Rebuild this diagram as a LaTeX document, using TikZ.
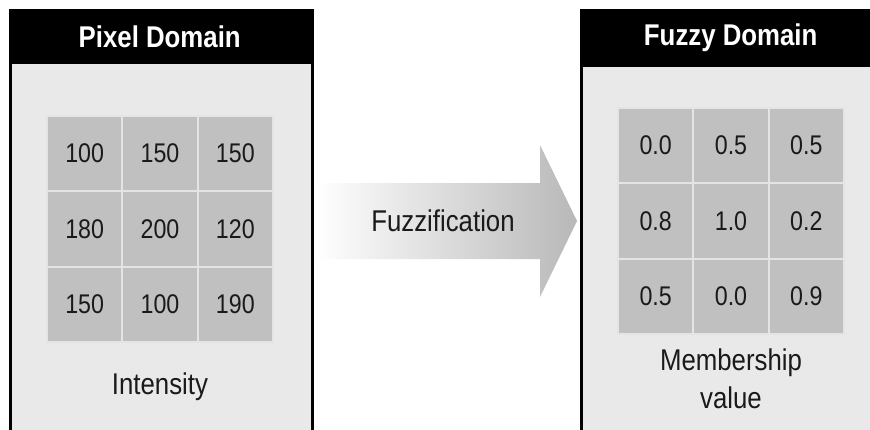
\documentclass[tikz,border=0pt]{standalone}
\usepackage{fontspec}
\setmainfont{Liberation Sans}[FakeStretch=0.86]
\usetikzlibrary{positioning}
\definecolor{panelgray}{HTML}{E9E9E9}
\definecolor{cellgray}{HTML}{C0C0C0}
\definecolor{gridline}{HTML}{E4E4E4}
\definecolor{arrowgray}{HTML}{B8B8B8}
\definecolor{textgray}{HTML}{1A1A1A}

\begin{document}
\begin{tikzpicture}[x=1pt, y=-1pt,
    panel/.style={draw=black, line width=3pt, fill=panelgray,
            anchor=north west, minimum width=302pt, minimum height=440pt},
    head/.style={fill=black, text=white, anchor=north west, inner sep=0pt,
            minimum width=302pt, font=\fontsize{30}{36}\selectfont\bfseries},
    cell/.style={fill=cellgray, draw=gridline, line width=2pt,
            minimum size=75.3pt, inner sep=0pt, text=textgray,
            font=\fontsize{27}{32}\selectfont},
    lbl/.style={align=center, text=textgray, font=\fontsize{30}{38}\selectfont}]
    \useasboundingbox (0,0) rectangle (870,429);
    % panels
    \node[panel] (pixel) at (8.5,8.5) {};
    \node[head, minimum height=55.5pt] (pixelhead) at (pixel.north west) {Pixel Domain};
    \node[panel] (fuzzy) at (579.5,8.5) {};
    \node[head, minimum height=58.5pt] (fuzzyhead) at (fuzzy.north west) {Fuzzy Domain};
    % grids
    \foreach \v [count=\i from 0] in {100,150,150,180,200,120,150,100,190} {
        \pgfmathtruncatemacro\row{div(\i,3)}
        \pgfmathtruncatemacro\col{mod(\i,3)}
        \node[cell] (p\i) at (84.7+\col*75.3, 153.7+\row*75.3) {\v};
    }
    \foreach \v [count=\i from 0] in {0.0,0.5,0.5,0.8,1.0,0.2,0.5,0.0,0.9} {
        \pgfmathtruncatemacro\row{div(\i,3)}
        \pgfmathtruncatemacro\col{mod(\i,3)}
        \node[cell] (f\i) at (655.7+\col*75.3, 145.7+\row*75.3) {\v};
    }
    \node[lbl] (intensity) at (160,387) {Intensity};
    \node[lbl] (membership) at (731,379) {Membership\\value};
    % arrow
    \shade[left color=white, right color=arrowgray]
        (316,183) -- (540,183) -- (540,145) -- (577,221)
        -- (540,297) -- (540,259) -- (316,259) -- cycle;
    \node[lbl] (fuzzification) at (443,221) {Fuzzification};
\end{tikzpicture}
\end{document}
